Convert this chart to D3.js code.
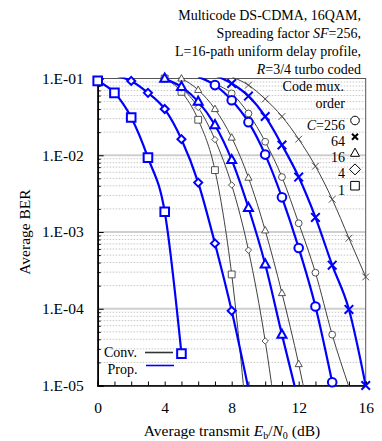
<!DOCTYPE html>
<html><head><meta charset="utf-8">
<script src="https://cdn.jsdelivr.net/npm/d3@7/dist/d3.min.js"></script>
<style>body{margin:0;background:#fff}svg{display:block;font-family:"Liberation Serif","Times New Roman",serif}</style>
</head><body>
<svg id="c" width="382" height="441"></svg>
<script>
// ---- data ----
const xTicks = [0, 4, 8, 12, 16];
const yTicks = [1e-1, 1e-2, 1e-3, 1e-4, 1e-5];
const yTickLabels = ["1.E-01", "1.E-02", "1.E-03", "1.E-04", "1.E-05"];
const legendOrders = ["256", "64", "16", "4", "1"];
const legendShapes = ["circle", "cross", "triangle", "diamond", "square"];

const propC1X = [0, 1, 2, 3, 4, 5];
const propC1Y = [0.093, 0.065, 0.031, 0.0093, 0.00184, 0.000026];
const propC4X = [1, 2, 3, 4, 5, 6, 7, 8, 9];
const propC4Y = [0.11, 0.093, 0.065, 0.040, 0.0162, 0.0044, 0.00071, 0.000094, 0.000009];
const propC16X = [3, 4, 5, 6, 7, 8, 9, 10, 11, 12];
const propC16Y = [0.13, 0.1, 0.078, 0.050, 0.0248, 0.0087, 0.00207, 0.00038, 0.000046, 0.000006];
const propC256X = [6, 7, 8, 9, 10, 11, 12, 13, 14];
const propC256Y = [0.105, 0.082, 0.052, 0.027, 0.0102, 0.00283, 0.00062, 0.000107, 0.000011];
const propC64X = [7, 8, 9, 10, 11, 12, 13, 14, 15, 16];
const propC64Y = [0.11, 0.086, 0.059, 0.032, 0.0136, 0.0052, 0.00155, 0.00037, 0.000098, 0.00001];

const convC1X = [3, 4, 5, 6, 7, 8, 9];
const convC1Y = [0.12, 0.1, 0.067, 0.029, 0.0064, 0.00028, 0.000002];
const convC4X = [4, 5, 6, 7, 8, 9, 10, 11];
const convC4Y = [0.1, 0.075, 0.042, 0.016, 0.0041, 0.00058, 0.000038, 0.000001];
const convC16X = [4, 5, 6, 7, 8, 9, 10, 11, 12, 13];
const convC16Y = [0.12, 0.1, 0.071, 0.040, 0.017, 0.0051, 0.00105, 0.00016, 0.000019, 0.0000016];
const convC256X = [6, 7, 8, 9, 10, 11, 12, 13, 14, 15];
const convC256Y = [0.105, 0.085, 0.064, 0.035, 0.015, 0.0052, 0.0013, 0.000295, 0.000046, 0.0000096];
const convC64X = [8, 9, 10, 11, 12, 13, 14, 15, 16];
const convC64Y = [0.105, 0.082, 0.054, 0.032, 0.0162, 0.0072, 0.00267, 0.00083, 0.00026];

const series = [
  {x: convC1X, y: convC1Y, shape: "square", prop: false},
  {x: convC4X, y: convC4Y, shape: "diamond", prop: false},
  {x: convC16X, y: convC16Y, shape: "triangle", prop: false},
  {x: convC256X, y: convC256Y, shape: "circle", prop: false},
  {x: convC64X, y: convC64Y, shape: "cross", prop: false},
  {x: propC1X, y: propC1Y, shape: "square", prop: true},
  {x: propC4X, y: propC4Y, shape: "diamond", prop: true},
  {x: propC16X, y: propC16Y, shape: "triangle", prop: true},
  {x: propC256X, y: propC256Y, shape: "circle", prop: true},
  {x: propC64X, y: propC64Y, shape: "cross", prop: true}
];

// ---- layout ----
const L = 97.7, R = 365.7, T = 78.5, B = 385.5;
const x = d3.scaleLinear().domain([0, 16]).range([L, R]);
const y = d3.scaleLog().domain([1e-1, 1e-5]).range([T, B]);
const BLUE = "#0000ff", GRAY = "#404040";

const svg = d3.select("#c");

// gridlines
const minor = [];
for (let e = -5; e < -1; e++) for (let k = 2; k <= 9; k++) minor.push(k * Math.pow(10, e));
svg.append("g").selectAll("line").data(minor).join("line")
  .attr("x1", L).attr("x2", R).attr("y1", d => y(d)).attr("y2", d => y(d))
  .attr("stroke", "#b8b8b8").attr("stroke-width", 0.8).attr("stroke-dasharray", "1.5,1.5");
svg.append("g").selectAll("line").data(yTicks.slice(1, 4)).join("line")
  .attr("x1", L).attr("x2", R).attr("y1", d => y(d)).attr("y2", d => y(d))
  .attr("stroke", "#cfcfcf").attr("stroke-width", 2);

// frame
svg.append("rect").attr("x", L).attr("y", T).attr("width", R - L).attr("height", B - T)
  .attr("fill", "none").attr("stroke", "#555").attr("stroke-width", 1);

// axes (inward ticks)
const xAxis = d3.axisBottom(x).tickValues(d3.range(0, 17)).tickSize(-4).tickFormat(d => xTicks.includes(d) ? d : "").tickPadding(16);
const gx = svg.append("g").attr("transform", `translate(0,${B})`).call(xAxis);
gx.select(".domain").attr("stroke", "#000").attr("stroke-width", 1.6);
gx.selectAll(".tick line").attr("stroke", "#000");
gx.selectAll("text").attr("font-size", 15.5).attr("font-family", "Liberation Serif").attr("fill", "#000");

const yAxisMinor = d3.axisLeft(y).tickValues(minor).tickSize(-3).tickFormat("");
const gym = svg.append("g").attr("transform", `translate(${L},0)`).call(yAxisMinor);
gym.select(".domain").remove();
gym.selectAll(".tick line").attr("stroke", "#000");
const yAxis = d3.axisLeft(y).tickValues(yTicks).tickSize(-6).tickPadding(14)
  .tickFormat((d, i) => yTickLabels[i]);
const gy = svg.append("g").attr("transform", `translate(${L},0)`).call(yAxis);
gy.select(".domain").attr("stroke", "#000").attr("stroke-width", 1.6);
gy.selectAll(".tick line").attr("stroke", "#000");
gy.selectAll("text").attr("font-size", 15.5).attr("font-family", "Liberation Serif").attr("fill", "#000");

// clip
svg.append("clipPath").attr("id", "clip").append("rect")
  .attr("x", L).attr("y", T - 1).attr("width", R - L).attr("height", B - T + 2);

function markerPath(shape, s) {
  switch (shape) {
    case "square": return `M${-s},${-s}H${s}V${s}H${-s}Z`;
    case "circle": return `M${s},0A${s},${s} 0 1,1 ${-s},0A${s},${s} 0 1,1 ${s},0Z`;
    case "triangle": return `M0,${-s * 1.15}L${s * 1.05},${s * 0.75}L${-s * 1.05},${s * 0.75}Z`;
    case "diamond": return `M0,${-s * 1.1}L${s * 1.1},0L0,${s * 1.1}L${-s * 1.1},0Z`;
    case "cross": return `M${-s},${-s}L${s},${s}M${-s},${s}L${s},${-s}`;
  }
}

const line = d3.line().x(d => x(d[0])).y(d => y(d[1])).curve(d3.curveMonotoneX);
const plot = svg.append("g").attr("clip-path", "url(#clip)");
series.forEach(s => {
  const pts = s.x.map((v, i) => [v, s.y[i]]);
  const col = s.prop ? BLUE : GRAY;
  plot.append("path").attr("d", line(pts)).attr("fill", "none")
    .attr("stroke", col).attr("stroke-width", s.prop ? 2.2 : 1);
});
series.forEach(s => {
  const pts = s.x.map((v, i) => [v, s.y[i]]).filter(p => p[1] <= 0.1001 && p[1] >= 1e-5);
  const col = s.prop ? BLUE : GRAY;
  const size = s.prop ? 4.3 : 3.4;
  svg.append("g").selectAll("path").data(pts).join("path")
    .attr("transform", p => `translate(${x(p[0])},${y(p[1])})`)
    .attr("d", markerPath(s.shape, s.shape === "diamond" ? size * 0.85 : size))
    .attr("fill", s.shape === "cross" ? "none" : "#fff")
    .attr("stroke", col).attr("stroke-width", s.prop ? 2 : 0.9);
});

// title
const title = svg.append("g").attr("font-size", 14).attr("text-anchor", "end").attr("fill", "#000");
title.append("text").attr("x", 361).attr("y", 20).text("Multicode DS-CDMA, 16QAM,");
const t2 = title.append("text").attr("x", 361).attr("y", 38);
t2.append("tspan").text("Spreading factor ");
t2.append("tspan").attr("font-style", "italic").text("SF");
t2.append("tspan").text("=256,");
title.append("text").attr("x", 361).attr("y", 56).text("L=16-path uniform delay profile,");
const t4 = title.append("text").attr("x", 361).attr("y", 74);
t4.append("tspan").attr("font-style", "italic").text("R");
t4.append("tspan").text("=3/4 turbo coded");

// legend (code mux order)
const lg = svg.append("g").attr("font-size", 14).attr("fill", "#000");
lg.append("text").attr("x", 344).attr("y", 91).attr("text-anchor", "end").text("Code mux.");
lg.append("text").attr("x", 345).attr("y", 108).attr("text-anchor", "end").text("order");
legendOrders.forEach((o, i) => {
  const yy = 124.5 + i * 16.3;
  const t = lg.append("text").attr("x", 345).attr("y", yy + 5).attr("text-anchor", "end");
  if (i === 0) { t.append("tspan").attr("font-style", "italic").text("C"); t.append("tspan").text("=" + o); }
  else t.text(o);
  const sh = legendShapes[i];
  lg.append("path").attr("transform", `translate(355,${yy - 4})`)
    .attr("d", markerPath(sh, sh === "cross" ? 3 : (sh === "diamond" ? 5 : 4.3)))
    .attr("fill", sh === "cross" ? "none" : "#fff").attr("stroke", "#000")
    .attr("stroke-width", sh === "cross" ? 2 : 1);
});

// legend conv / prop
const lb = svg.append("g").attr("font-size", 14).attr("fill", "#000");
lb.append("text").attr("x", 104).attr("y", 357).text("Conv.");
lb.append("line").attr("x1", 145).attr("x2", 173).attr("y1", 352.5).attr("y2", 352.5).attr("stroke", "#333").attr("stroke-width", 1.6);
lb.append("text").attr("x", 107.5).attr("y", 373.5).text("Prop.");
lb.append("line").attr("x1", 146).attr("x2", 174).attr("y1", 365.5).attr("y2", 365.5).attr("stroke", BLUE).attr("stroke-width", 1.6);

// axis titles
const xt = svg.append("text").attr("x", 232).attr("y", 436).attr("text-anchor", "middle").attr("font-size", 15.5).attr("fill", "#000");
xt.append("tspan").text("Average transmit ");
xt.append("tspan").attr("font-style", "italic").text("E");
xt.append("tspan").attr("font-size", 10).attr("dy", 3).text("b");
xt.append("tspan").attr("dy", -3).text("/");
xt.append("tspan").attr("font-style", "italic").text("N");
xt.append("tspan").attr("font-size", 10).attr("dy", 3).text("0");
xt.append("tspan").attr("dy", -3).text(" (dB)");

svg.append("text").attr("transform", "translate(30,232) rotate(-90)").attr("text-anchor", "middle")
  .attr("font-size", 15.5).attr("fill", "#000").text("Average BER");
</script>
</body></html>
